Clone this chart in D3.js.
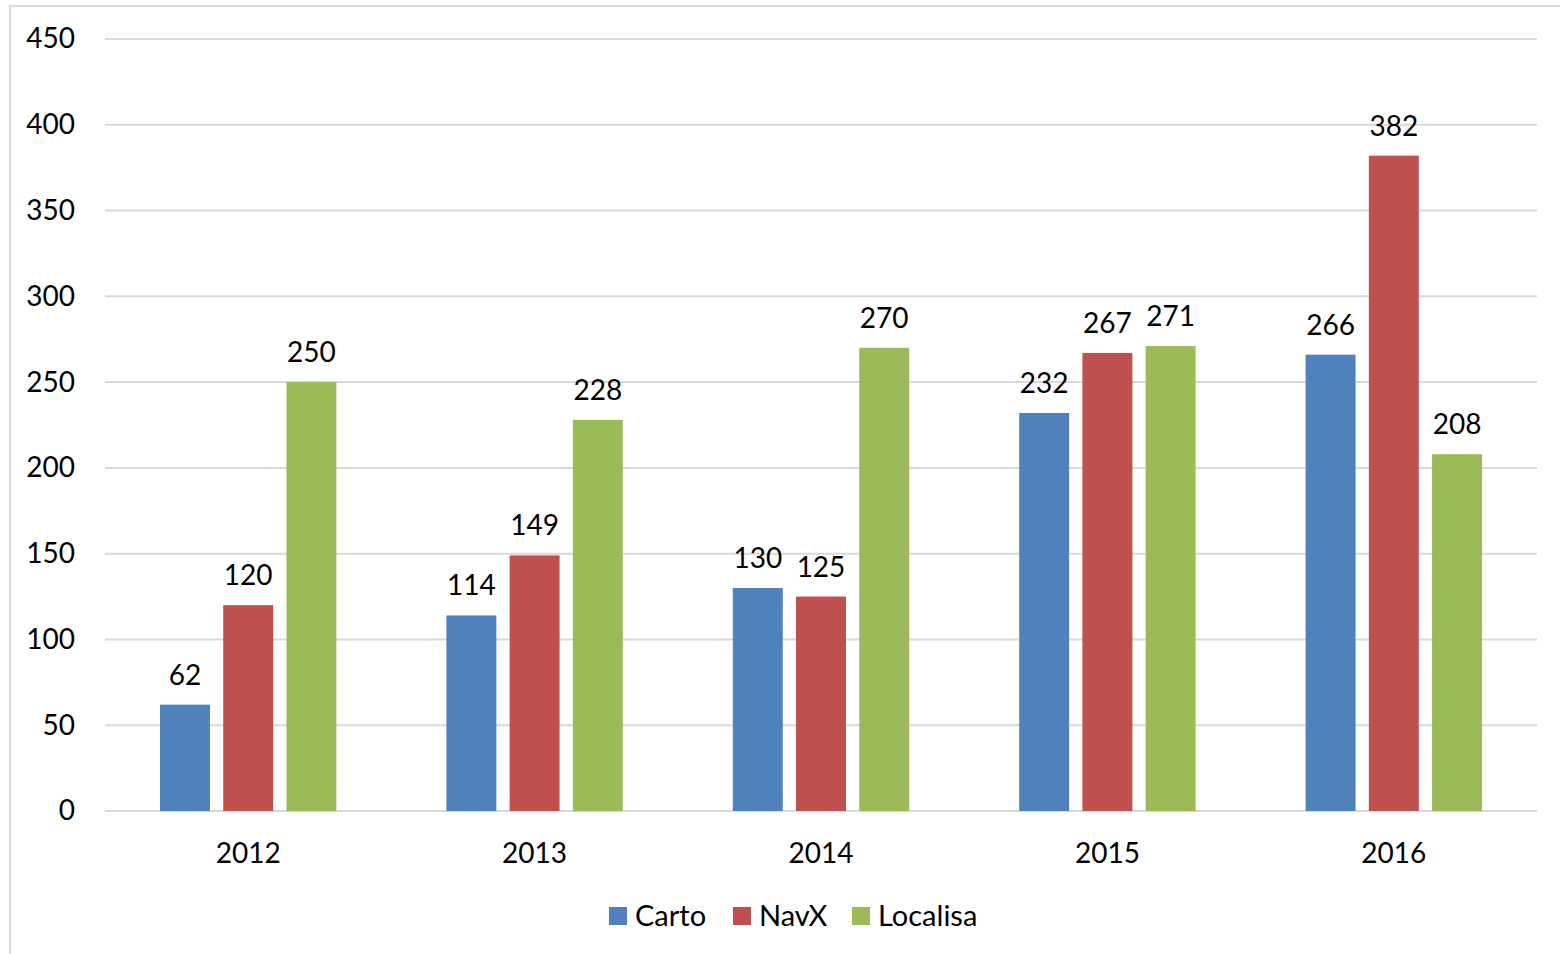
<!DOCTYPE html>
<html>
<head>
<meta charset="utf-8">
<script src="https://cdn.jsdelivr.net/npm/d3@7"></script>
<style>
  body { margin: 0; background: #fff; }
  svg { display: block; font-family: Lato, "Open Sans", sans-serif; }
</style>
</head>
<body>
<div id="chart"></div>
<script>
const years = ["2012", "2013", "2014", "2015", "2016"];
const carto = [62, 114, 130, 232, 266];
const navx = [120, 149, 125, 267, 382];
const localisa = [250, 228, 270, 271, 208];
const seriesNames = ["Carto", "NavX", "Localisa"];
const seriesColors = ["#4F81BD", "#C0504D", "#9BBB59"];
const yTicks = [0, 50, 100, 150, 200, 250, 300, 350, 400, 450];

const width = 1560, height = 954;
const margin = {left: 105, right: 23, top: 39, bottom: 143};

const series = [carto, navx, localisa].map((vals, i) => ({
  name: seriesNames[i],
  color: seriesColors[i],
  values: vals.map((v, j) => ({year: years[j], value: v}))
}));

const svg = d3.select("#chart").append("svg")
  .attr("width", width)
  .attr("height", height);

// chart frame
svg.append("rect")
  .attr("x", 10).attr("y", 6)
  .attr("width", width + 20).attr("height", height + 20)
  .attr("fill", "#fff")
  .attr("stroke", "#D9D9D9")
  .attr("stroke-width", 2);

const x = d3.scaleBand()
  .domain(years)
  .range([margin.left, width - margin.right]);

const xInner = d3.scaleBand()
  .domain(seriesNames)
  .range([55, x.bandwidth() - 55])
  .paddingInner(0.21);

const y = d3.scaleLinear()
  .domain([0, 450])
  .range([height - margin.bottom, margin.top]);

// gridlines
svg.append("g")
  .selectAll("line")
  .data(yTicks)
  .join("line")
    .attr("x1", margin.left)
    .attr("x2", width - margin.right)
    .attr("y1", d => y(d))
    .attr("y2", d => y(d))
    .attr("stroke", "#D9D9D9")
    .attr("stroke-width", 2);

// y axis labels
const yAxis = svg.append("g")
  .attr("transform", `translate(${margin.left - 30},0)`)
  .call(d3.axisLeft(y).tickValues(yTicks).tickSize(0).tickPadding(0));
yAxis.select(".domain").remove();
yAxis.selectAll("text")
  .attr("font-size", 28)
  .attr("font-family", "Lato, sans-serif")
  .attr("fill", "#000");

// x axis labels
const xAxis = svg.append("g")
  .attr("transform", `translate(0,${height - margin.bottom + 32})`)
  .call(d3.axisBottom(x).tickSize(0).tickPadding(0));
xAxis.select(".domain").remove();
xAxis.selectAll("text")
  .attr("font-size", 28)
  .attr("font-family", "Lato, sans-serif")
  .attr("fill", "#000");

// bars
const groups = svg.append("g")
  .selectAll("g")
  .data(series)
  .join("g")
    .attr("fill", d => d.color);

groups.selectAll("rect")
  .data(d => d.values.map(v => ({...v, name: d.name})))
  .join("rect")
    .attr("x", d => x(d.year) + xInner(d.name))
    .attr("y", d => y(d.value))
    .attr("width", xInner.bandwidth())
    .attr("height", d => y(0) - y(d.value));

// value labels
groups.selectAll("text")
  .data(d => d.values.map(v => ({...v, name: d.name})))
  .join("text")
    .attr("x", d => x(d.year) + xInner(d.name) + xInner.bandwidth() / 2)
    .attr("y", d => y(d.value) - 20)
    .attr("text-anchor", "middle")
    .attr("font-size", 28)
    .attr("fill", "#000")
    .text(d => d.value);

// legend
const legendX = [609, 733, 852];
const legend = svg.append("g")
  .selectAll("g")
  .data(series)
  .join("g")
    .attr("transform", (d, i) => `translate(${legendX[i]},916)`);
legend.append("rect")
  .attr("x", 0).attr("y", -9)
  .attr("width", 18).attr("height", 18)
  .attr("fill", d => d.color);
legend.append("text")
  .attr("x", 26)
  .attr("dy", "0.36em")
  .attr("font-size", 29)
  .attr("fill", "#000")
  .text(d => d.name);
</script>
</body>
</html>
